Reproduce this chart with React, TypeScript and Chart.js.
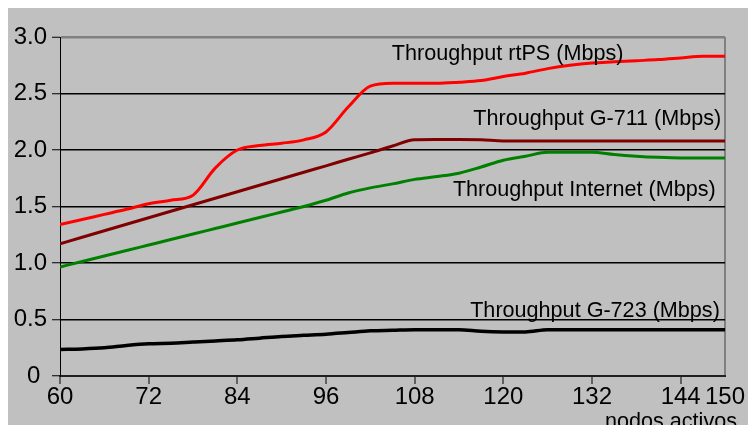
import { useEffect, useRef } from 'react';
import { Chart, registerables } from 'chart.js';

Chart.register(...registerables);

const nodes = [60, 63, 66, 69, 72, 75, 78, 81, 84, 87, 90, 93, 96, 99, 102, 105, 108, 111, 114, 117, 120, 123, 126, 129, 132, 135, 138, 141, 144, 147, 150];
const rtPS = [1.34, 1.385, 1.43, 1.475, 1.525, 1.555, 1.60, 1.84, 2.00, 2.04, 2.06, 2.09, 2.16, 2.38, 2.565, 2.59, 2.59, 2.59, 2.60, 2.615, 2.65, 2.68, 2.72, 2.75, 2.77, 2.78, 2.79, 2.80, 2.815, 2.83, 2.83];
const g711 = [1.17, 1.228, 1.285, 1.343, 1.40, 1.458, 1.515, 1.573, 1.63, 1.688, 1.745, 1.803, 1.86, 1.918, 1.975, 2.035, 2.09, 2.092, 2.093, 2.09, 2.08, 2.08, 2.08, 2.08, 2.08, 2.08, 2.08, 2.08, 2.08, 2.08, 2.08];
const internet = [0.965, 1.013, 1.062, 1.11, 1.159, 1.208, 1.256, 1.305, 1.354, 1.402, 1.451, 1.50, 1.555, 1.62, 1.665, 1.70, 1.74, 1.765, 1.795, 1.85, 1.91, 1.945, 1.98, 1.98, 1.98, 1.96, 1.945, 1.935, 1.93, 1.93, 1.93];
const g723 = [0.235, 0.24, 0.25, 0.27, 0.285, 0.29, 0.30, 0.31, 0.32, 0.335, 0.35, 0.36, 0.37, 0.385, 0.40, 0.405, 0.41, 0.41, 0.41, 0.395, 0.39, 0.39, 0.41, 0.41, 0.41, 0.41, 0.41, 0.41, 0.41, 0.41, 0.41];
const xTickValues = [60, 72, 84, 96, 108, 120, 132, 144, 150];
const seriesNames = ['Throughput rtPS (Mbps)', 'Throughput G-711 (Mbps)', 'Throughput Internet (Mbps)', 'Throughput G-723 (Mbps)'];
const seriesColors = ['#ff0000', '#800000', '#008000', '#000000'];
const xAxisTitle = 'nodos activos';

// label anchors in data coordinates: [x, y, align]
const labelAnchors: [number, number, CanvasTextAlign][] = [
  [104.9, 2.796, 'left'],
  [149.5, 2.221, 'right'],
  [148.75, 1.596, 'right'],
  [149.3, 0.525, 'right'],
];

const FONT = '"Liberation Sans", Arial, sans-serif';

export default function App() {
  const ref = useRef<HTMLCanvasElement>(null);
  useEffect(() => {
    if (!ref.current) return;
    const bgPlugin = {
      id: 'bg',
      beforeDraw(chart: any) {
        const c = chart.ctx;
        c.save();
        c.fillStyle = '#c0c0c0';
        c.fillRect(0, 0, chart.width, chart.height);
        c.restore();
      },
    };
    const labelPlugin = {
      id: 'labels',
      afterDraw(chart: any) {
        const c = chart.ctx;
        const xs = chart.scales.x;
        const ys = chart.scales.y;
        c.save();
        c.fillStyle = '#000';
        c.font = `21.6px ${FONT}`;
        c.textBaseline = 'alphabetic';
        labelAnchors.forEach((a, i) => {
          c.textAlign = a[2];
          c.fillText(seriesNames[i], xs.getPixelForValue(a[0]), ys.getPixelForValue(a[1]));
        });
        c.textAlign = 'right';
        c.fillText(xAxisTitle, chart.width - 11, chart.height + 2.5);
        c.restore();
      },
    };
    const datasets = [rtPS, g711, internet, g723].map((vals, i) => ({
      label: seriesNames[i],
      data: vals.map((v, j) => ({ x: nodes[j], y: v })),
      borderColor: seriesColors[i],
      backgroundColor: seriesColors[i],
      borderWidth: i === 3 ? 3.5 : 3,
      pointRadius: 0,
      cubicInterpolationMode: 'monotone' as const,
      fill: false,
    }));
    const chart = new Chart(ref.current, {
      type: 'line',
      data: { datasets },
      plugins: [bgPlugin, labelPlugin],
      options: {
        animation: false,
        responsive: false,
        layout: { padding: { top: 29, right: 23, left: 0, bottom: 0 } },
        plugins: { legend: { display: false }, tooltip: { enabled: false } },
        scales: {
          x: {
            type: 'linear',
            min: 60,
            max: 150,
            afterBuildTicks: (s: any) => {
              s.ticks = xTickValues.map((v) => ({ value: v }));
            },
            afterFit: (s: any) => {
              s.height = 49;
            },
            ticks: {
              color: '#000',
              font: { family: FONT, size: 24, lineHeight: 1 },
              padding: 1,
              maxRotation: 0,
              autoSkip: false,
              callback: (v: any) => String(v),
            },
            grid: {
              color: (ctx: any) => (ctx.tick && ctx.tick.value === 150 ? '#808080' : 'rgba(0,0,0,0)'),
              lineWidth: 2,
              drawTicks: true,
              tickLength: 8,
              tickColor: (ctx: any) => (ctx.tick && ctx.tick.value === 150 ? 'rgba(0,0,0,0)' : '#000'),
              tickWidth: 1,
            },
            border: { color: '#202020', width: 2 },
          },
          y: {
            type: 'linear',
            min: 0,
            max: 3,
            afterFit: (s: any) => {
              s.width = 52;
            },
            ticks: {
              stepSize: 0.5,
              color: '#000',
              font: { family: FONT, size: 24 },
              padding: 5,
              callback: (v: any) => (Number(v) === 0 ? '0 ' : Number(v).toFixed(1)),
            },
            grid: {
              color: (ctx: any) => (ctx.tick && ctx.tick.value === 3 ? '#808080' : '#000'),
              lineWidth: (ctx: any) => (ctx.tick && ctx.tick.value === 3 ? 2.5 : 1.5),
              drawTicks: true,
              tickLength: 8,
              tickColor: '#000',
              tickWidth: 1,
            },
            border: { color: '#000', width: 1 },
          },
        },
      },
    });
    return () => chart.destroy();
  }, []);
  return (
    <div style={{ position: 'fixed', left: 8, top: 8, width: 740, height: 417, overflow: 'hidden' }}>
      <canvas ref={ref} width={740} height={417} style={{ display: 'block' }} />
    </div>
  );
}
